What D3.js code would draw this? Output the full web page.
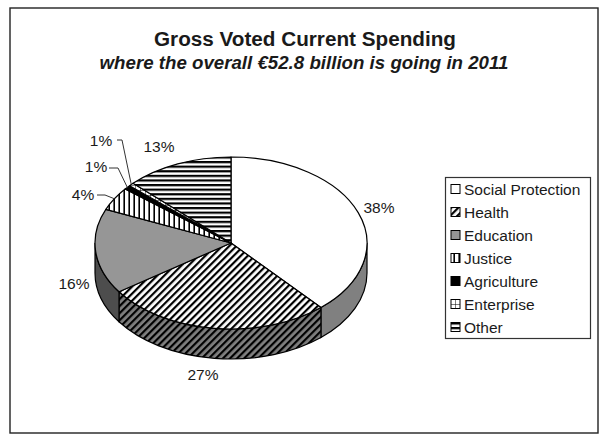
<!DOCTYPE html>
<html>
<head>
<meta charset="utf-8">
<script src="https://cdn.jsdelivr.net/npm/d3@7"></script>
<style>
  body { margin: 0; background: #fff; }
  text { font-family: "Liberation Sans", Arial, sans-serif; fill: #1a1a1a; }
</style>
</head>
<body>
<div id="chart"></div>
<script>
var categories = ["Social Protection", "Health", "Education", "Justice", "Agriculture", "Enterprise", "Other"];
var shares = [38.5, 26.9, 16, 4.4, 0.8, 0.6, 12.8];
var shareLabels = ["38%", "27%", "16%", "4%", "1%", "1%", "13%"];

var fills = ["#fff", "url(#diag)", "#969696", "url(#vert)", "#000", "url(#grid)", "url(#horiz)"];
var sideFills = ["#808080", "url(#diagSide)", "#4d4d4d", "url(#vert)", "#000", "url(#grid)", "url(#horiz)"];

var cx = 231, cy = 243, rx = 136, ry = 86, depth = 30;

var svg = d3.select("#chart").append("svg")
    .attr("width", 614)
    .attr("height", 437);

var defs = svg.append("defs");

function stripes(id, size, angle, bg, width) {
    var p = defs.append("pattern")
        .attr("id", id)
        .attr("patternUnits", "userSpaceOnUse")
        .attr("width", size)
        .attr("height", size)
        .attr("patternTransform", "rotate(" + angle + ")");
    p.append("rect").attr("width", size).attr("height", size).attr("fill", bg);
    p.append("rect").attr("width", size).attr("height", width).attr("fill", "#000");
}

stripes("diag", 5, -45, "#fff", 2.2);
stripes("diagSide", 5, -45, "#808080", 2.2);
stripes("vert", 5, 90, "#fff", 1.6);
stripes("horiz", 4.6, 0, "#fff", 2.2);

var grid = defs.append("pattern")
    .attr("id", "grid")
    .attr("patternUnits", "userSpaceOnUse")
    .attr("width", 5)
    .attr("height", 5);
grid.append("rect").attr("width", 5).attr("height", 5).attr("fill", "#fff");
grid.append("path").attr("d", "M0,0H5M0,0V5").attr("stroke", "#000").attr("stroke-width", 1);

// Frame
svg.append("rect")
    .attr("x", 10).attr("y", 8)
    .attr("width", 588).attr("height", 425)
    .attr("fill", "#fff")
    .attr("stroke", "#222")
    .attr("stroke-width", 1.4);

// Titles
svg.append("text")
    .attr("x", 305).attr("y", 46)
    .attr("text-anchor", "middle")
    .style("font-size", "20.7px")
    .style("font-weight", "bold")
    .text("Gross Voted Current Spending");

svg.append("text")
    .attr("x", 304).attr("y", 69)
    .attr("text-anchor", "middle")
    .style("font-size", "18.7px")
    .style("font-weight", "bold")
    .style("font-style", "italic")
    .text("where the overall €52.8 billion is going in 2011");

// Pie, angles run clockwise from 12 o'clock
var pie = d3.pie().sort(null);
var slices = pie(shares);

function px(a) { return cx + rx * Math.sin(a); }
function py(a) { return cy - ry * Math.cos(a); }

function topPath(d) {
    var large = d.endAngle - d.startAngle > Math.PI ? 1 : 0;
    return "M" + cx + "," + cy +
        "L" + px(d.startAngle) + "," + py(d.startAngle) +
        "A" + rx + "," + ry + " 0 " + large + " 1 " + px(d.endAngle) + "," + py(d.endAngle) + "Z";
}

// Only the part of the rim facing the viewer (90deg to 270deg) is visible
function sidePath(d) {
    var a0 = Math.max(d.startAngle, Math.PI / 2);
    var a1 = Math.min(d.endAngle, 3 * Math.PI / 2);
    if (a1 <= a0) return null;
    return "M" + px(a0) + "," + py(a0) +
        "A" + rx + "," + ry + " 0 0 1 " + px(a1) + "," + py(a1) +
        "V" + (py(a1) + depth) +
        "A" + rx + "," + ry + " 0 0 0 " + px(a0) + "," + (py(a0) + depth) + "Z";
}

svg.selectAll("path.side")
    .data(slices.filter(function(d) { return sidePath(d); }))
    .enter().append("path")
    .attr("class", "side")
    .attr("d", sidePath)
    .attr("fill", function(d) { return sideFills[d.index]; })
    .attr("stroke", "#000")
    .attr("stroke-width", 1.2);

svg.selectAll("path.top")
    .data(slices)
    .enter().append("path")
    .attr("class", "top")
    .attr("d", topPath)
    .attr("fill", function(d) { return fills[d.index]; })
    .attr("stroke", "#000")
    .attr("stroke-width", 1.2)
    .attr("stroke-linejoin", "round");

// Slice labels, placed by hand like the original
var labelPos = [[379, 208], [203, 375], [74, 284], [83, 195], [96, 167], [101, 141], [159, 147]];

svg.selectAll("text.share")
    .data(slices)
    .enter().append("text")
    .attr("class", "share")
    .attr("x", function(d) { return labelPos[d.index][0]; })
    .attr("y", function(d) { return labelPos[d.index][1] + 5; })
    .attr("text-anchor", "middle")
    .style("font-size", "15.5px")
    .text(function(d) { return shareLabels[d.index]; });

// Leader lines for the small slices: [start x, start y, knee x]
var leaderPos = { 3: [97, 195, 105], 4: [109, 168, 118], 5: [117, 140, 122] };

svg.selectAll("path.leader")
    .data(slices.filter(function(d) { return leaderPos[d.index]; }))
    .enter().append("path")
    .attr("class", "leader")
    .attr("fill", "none")
    .attr("stroke", "#333")
    .attr("stroke-width", 1)
    .attr("d", function(d) {
        var l = leaderPos[d.index];
        var mid = (d.startAngle + d.endAngle) / 2;
        return "M" + l[0] + "," + l[1] + "H" + l[2] + "L" + px(mid) + "," + py(mid);
    });

// Legend
var legend = svg.append("g");

legend.append("rect")
    .attr("x", 445.5).attr("y", 177.5)
    .attr("width", 145).attr("height", 161)
    .attr("fill", "#fff")
    .attr("stroke", "#333")
    .attr("stroke-width", 1.2);

var rowY = d3.scalePoint().domain(categories).range([189, 327]);

var rows = legend.selectAll("g.row")
    .data(categories)
    .enter().append("g")
    .attr("class", "row")
    .attr("transform", function(d) { return "translate(0," + rowY(d) + ")"; });

rows.append("rect")
    .attr("x", 451).attr("y", -4.5)
    .attr("width", 9).attr("height", 9)
    .attr("fill", function(d, i) { return fills[i]; })
    .attr("stroke", "#000")
    .attr("stroke-width", 1);

rows.append("text")
    .attr("x", 464).attr("y", 5.5)
    .style("font-size", "15.5px")
    .text(function(d) { return d; });
</script>
</body>
</html>
